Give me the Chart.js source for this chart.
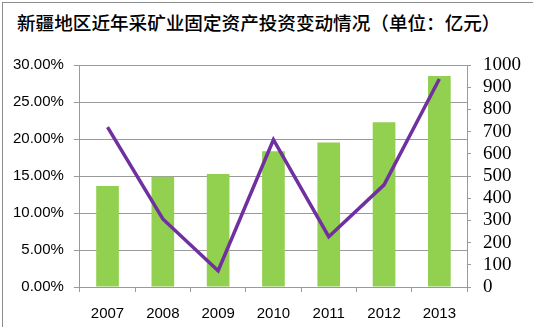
<!DOCTYPE html>
<html lang="zh">
<head>
    <meta charset="UTF-8">
    <title>新疆地区近年采矿业固定资产投资变动情况</title>
    <script src="https://cdn.jsdelivr.net/npm/chart.js"></script>
    <style>
        body, html {
            margin: 0;
            padding: 0;
            background: #ffffff;
        }
        .frame {
            position: absolute;
            left: 2px;
            top: 2px;
            width: 531px;
            height: 325px;
            border-left: 1px solid #8c8c8c;
            border-top: 1px solid #8c8c8c;
        }
        .title {
            position: absolute;
            left: 17px;
            top: 8px;
            font-family: "Noto Sans CJK SC", sans-serif;
            font-size: 18.6px;
            font-weight: 500;
            color: #000;
            white-space: nowrap;
        }
        .chart-box {
            position: absolute;
            left: 0;
            top: 0;
            width: 533px;
            height: 327px;
        }
    </style>
</head>
<body>
    <div class="frame"></div>
    <div class="title">新疆地区近年采矿业固定资产投资变动情况（单位：亿元）</div>
    <div class="chart-box">
        <canvas id="miningChart" width="533" height="327"></canvas>
    </div>

    <script>
    const years = ['2007', '2008', '2009', '2010', '2011', '2012', '2013'];
    // 固定资产投资（亿元）
    const investment = [455, 497, 509, 611, 651, 742, 951];
    // 同比增速（%）
    const growth = [21.6, 9.2, 2.2, 19.9, 6.8, 13.8, 28.1];

    const gridGray = '#9a9a9a';

    const ctx = document.getElementById('miningChart').getContext('2d');
    new Chart(ctx, {
        type: 'bar',
        data: {
            labels: years,
            datasets: [
                {
                    type: 'line',
                    label: '增速',
                    data: growth,
                    yAxisID: 'y',
                    borderColor: '#7030A0',
                    borderWidth: 3.5,
                    pointRadius: 0,
                    tension: 0,
                    order: 0
                },
                {
                    type: 'bar',
                    label: '投资额',
                    data: investment,
                    yAxisID: 'y2',
                    backgroundColor: '#92D050',
                    barPercentage: 0.41,
                    categoryPercentage: 1,
                    order: 1
                }
            ]
        },
        options: {
            responsive: false,
            animation: false,
            layout: {
                padding: { top: 65, left: 3, right: 0, bottom: -9 }
            },
            plugins: {
                legend: { display: false },
                tooltip: { enabled: false }
            },
            scales: {
                x: {
                    grid: {
                        offset: true,
                        drawOnChartArea: false,
                        drawTicks: true,
                        tickLength: 5,
                        color: gridGray
                    },
                    border: { color: gridGray },
                    ticks: {
                        color: '#000',
                        padding: 13,
                        font: { family: 'Liberation Sans', size: 15 }
                    }
                },
                y: {
                    position: 'left',
                    min: 0,
                    max: 30,
                    ticks: {
                        stepSize: 5,
                        color: '#000',
                        padding: 10,
                        font: { family: 'Liberation Sans', size: 15 },
                        callback: v => v.toFixed(2) + '%'
                    },
                    grid: {
                        color: gridGray,
                        tickLength: 6
                    },
                    border: { color: gridGray }
                },
                y2: {
                    position: 'right',
                    min: 0,
                    max: 1000,
                    ticks: {
                        stepSize: 100,
                        autoSkip: false,
                        color: '#000',
                        padding: 12,
                        font: { family: 'Liberation Serif', size: 19 },
                        callback: v => String(v)
                    },
                    grid: {
                        drawOnChartArea: false,
                        color: gridGray,
                        tickLength: 4
                    },
                    border: { color: gridGray }
                }
            }
        }
    });
    </script>
</body>
</html>
